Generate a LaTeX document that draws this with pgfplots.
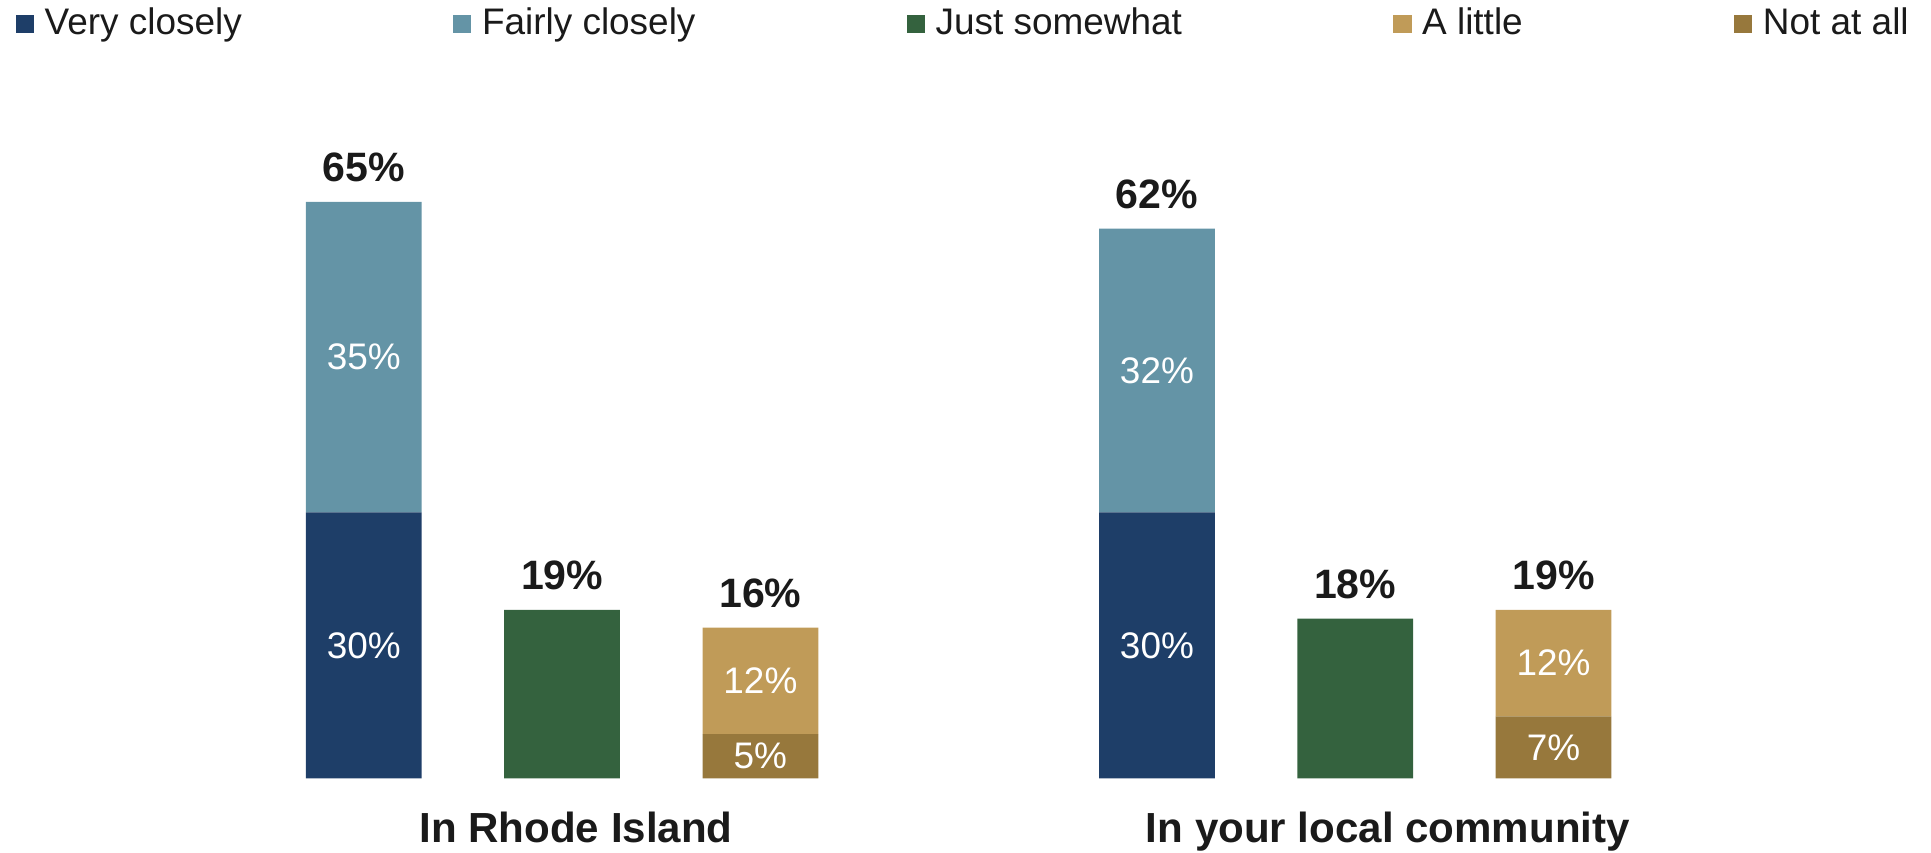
\documentclass[border=0pt]{standalone}
\usepackage{pgfplots}
\pgfplotsset{compat=1.18}
\usepackage{pgfplotstable}
\usepackage{fontspec}
\setmainfont{Liberation Sans}
\definecolor{cVery}{HTML}{1E3E68}
\definecolor{cFair}{HTML}{6494A6}
\definecolor{cJust}{HTML}{34623E}
\definecolor{cLittle}{HTML}{C09B58}
\definecolor{cNot}{HTML}{97783C}
\definecolor{txt}{HTML}{1A1A1A}

\pgfplotstableread{
x very fairly just notatall little
0 30 35 0 0 0
1 0 0 19 0 0
2 0 0 0 5 12
4 30 32 0 0 0
5 0 0 18 0 0
6 0 0 0 7 12
}\bars

\pgfplotstableread{
x y label
0 65 65\%
1 19 19\%
2 17 16\%
4 62 62\%
5 18 18\%
6 19 19\%
}\toplabels

\pgfplotstableread{
x y label
0 15 30\%
0 47.5 35\%
2 2.5 5\%
2 11 12\%
4 15 30\%
4 46 32\%
6 3.5 7\%
6 13 12\%
}\inlabels

\pgfplotsset{
  base/.style={scale only axis, width=940.8pt, height=415.2pt,
    at={(0pt,0pt)}, anchor=south west,
    xmin=-1.835, xmax=7.904, ymin=-8.33, ymax=87.78,
    enlargelimits=false, clip=false}
}

\begin{document}
\begin{tikzpicture}
\begin{axis}[base, ybar stacked, bar width=56.4pt,
  axis line style={draw=none}, ytick=\empty,
  xtick={1.070,5.165},
  xticklabels={In Rhode Island, In your local community},
  major tick length=0pt,
  xticklabel style={anchor=base, yshift=4.6pt, inner sep=0pt,
    font=\bfseries\fontsize{20.5}{24}\selectfont, text=txt},
  legend columns=5,
  legend cell align=left,
  legend image code/.code={\fill[#1] (0pt,-5.3pt) rectangle (8.8pt,3.5pt); \path (14pt,0pt);},
  legend style={at={(0,1)}, anchor=north west, xshift=7.8pt, yshift=-3.6pt,
    draw=none, fill=none, inner sep=0pt, outer sep=0pt,
    font=\fontsize{18}{21.6}\selectfont, text=txt, column sep=0pt,
    nodes={inner sep=0pt},
    /tikz/every even column/.append style={column sep=103pt}},
]
\addplot[forget plot, fill=cVery, draw=none] table[x=x, y=very] {\bars};
\addplot[forget plot, fill=cFair, draw=none] table[x=x, y=fairly] {\bars};
\addplot[forget plot, fill=cJust, draw=none] table[x=x, y=just] {\bars};
\addplot[forget plot, fill=cNot, draw=none] table[x=x, y=notatall] {\bars};
\addplot[forget plot, fill=cLittle, draw=none] table[x=x, y=little] {\bars};
\addlegendimage{fill=cVery, draw=none}
\addlegendentry{Very closely}
\addlegendimage{fill=cFair, draw=none}
\addlegendentry{Fairly closely}
\addlegendimage{fill=cJust, draw=none}
\addlegendentry{Just somewhat}
\addlegendimage{fill=cLittle, draw=none}
\addlegendentry{A little}
\addlegendimage{fill=cNot, draw=none}
\addlegendentry{Not at all}
\end{axis}
\begin{axis}[base, hide axis]
\addplot[draw=none, mark=none, nodes near coords, point meta=explicit symbolic,
  every node near coord/.append style={anchor=base, yshift=10pt, inner sep=0pt,
    font=\bfseries\fontsize{20}{24}\selectfont, text=txt}]
  table[x=x, y=y, meta=label] {\toplabels};
\addplot[draw=none, mark=none, nodes near coords, point meta=explicit symbolic,
  every node near coord/.append style={anchor=center, inner sep=0pt,
    font=\fontsize{18}{21.6}\selectfont, text=white}]
  table[x=x, y=y, meta=label] {\inlabels};
\end{axis}
\pgfresetboundingbox
\path[use as bounding box] (0pt,0pt) rectangle (940.8pt,415.2pt);
\end{tikzpicture}
\end{document}
